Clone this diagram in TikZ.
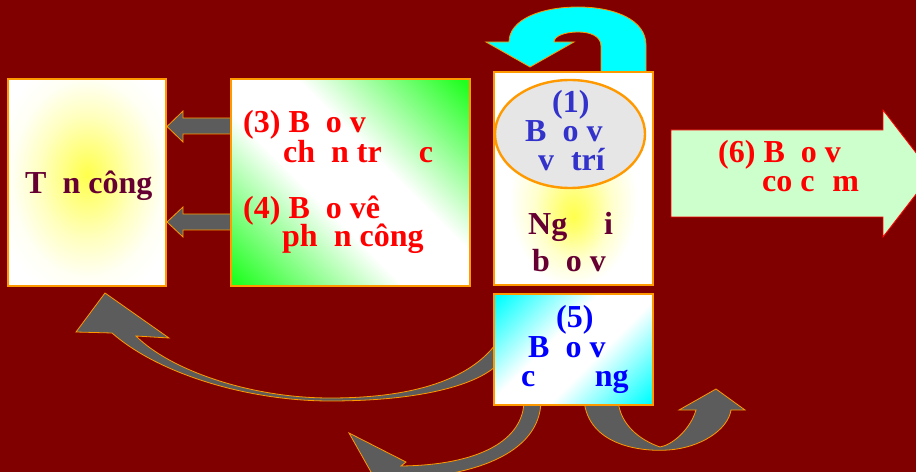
\documentclass[tikz,border=0pt]{standalone}
\usepackage{fontspec}
\setmainfont{Liberation Serif}
\usetikzlibrary{shapes.geometric}
\definecolor{bg}{RGB}{128,0,0}
\definecolor{edge}{RGB}{255,153,0}
\definecolor{arrowgray}{RGB}{92,92,92}
\definecolor{txtred}{RGB}{255,0,0}
\definecolor{txtpurple}{RGB}{102,0,51}
\definecolor{txtblueA}{RGB}{51,51,204}
\definecolor{txtblueB}{RGB}{0,0,255}
\definecolor{lightgreen}{RGB}{204,255,204}
\definecolor{ellgray}{RGB}{230,230,230}
\definecolor{uturn}{RGB}{0,255,255}
\pgfdeclareradialshading{glowleft}{\pgfpoint{0bp}{2bp}}{rgb(0bp)=(1,1,0.3); rgb(5bp)=(1,1,0.45); rgb(15bp)=(1,1,0.75); rgb(24bp)=(1,1,0.96); rgb(30bp)=(1,1,1); rgb(50bp)=(1,1,1)}
\pgfdeclareradialshading{glowmid}{\pgfpoint{0bp}{-9bp}}{rgb(0bp)=(1,1,0.3); rgb(4bp)=(1,1,0.45); rgb(12bp)=(1,1,0.8); rgb(20bp)=(1,1,1); rgb(50bp)=(1,1,1)}
\pgfdeclarehorizontalshading{greenband}{100bp}{rgb(0bp)=(0.13,1,0.13); rgb(16bp)=(0.13,1,0.13); rgb(42bp)=(1,1,1); rgb(58bp)=(1,1,1); rgb(84bp)=(0.13,1,0.13); rgb(100bp)=(0.13,1,0.13)}
\pgfdeclarehorizontalshading{cyanband}{100bp}{rgb(0bp)=(0,1,1); rgb(16bp)=(0,1,1); rgb(42bp)=(1,1,1); rgb(58bp)=(1,1,1); rgb(84bp)=(0,1,1); rgb(100bp)=(0,1,1)}
\newcommand\bigtxt{\bfseries\fontsize{32bp}{30bp}\selectfont}
\begin{document}
\begin{tikzpicture}[x=1bp,y=-1bp,
  tx/.style={anchor=base west, inner sep=0pt, font=\bigtxt},
  boxstyle/.style={draw=edge, line width=1.3bp, inner sep=0pt},
  grayarrow/.style={fill=arrowgray, draw=edge, line width=0.8bp, line join=miter}]
\useasboundingbox (0,0) rectangle (916,472);
\fill[bg] (0,0) rectangle (916,472);
\clip (0,0) rectangle (916,472);

% straight gray arrows (green box -> attack box)
\draw[grayarrow] (231,118) -- (183,118) -- (183,111) -- (167,126.5) -- (183,142) -- (183,134) -- (231,134) -- cycle;
\draw[grayarrow] (231,214) -- (183,214) -- (183,207) -- (167,222) -- (183,237) -- (183,230) -- (231,230) -- cycle;

% curved gray arrows from box (5)
\draw[grayarrow] (500,338) .. controls (470,385) and (400,398) .. (330,398)
  .. controls (250,398) and (170,370) .. (136,336) -- (169,338) -- (105,293) -- (76,332) -- (112,333)
  .. controls (160,375) and (250,401) .. (330,401)
  .. controls (420,401) and (480,385) .. (500,362) -- cycle;
\draw[grayarrow] (524,400) .. controls (524,440) and (480,465) .. (401,466) -- (406,462) -- (349,433) -- (380,488) -- (390,479)
  .. controls (470,478) and (541,455) .. (541,400) -- cycle;
\draw[grayarrow] (584,400) .. controls (588,445) and (640,452) .. (668,450) .. controls (700,448) and (728,430) .. (731,410)
  -- (745,410) -- (716,389) -- (679,410) -- (696,410)
  .. controls (690,430) and (672,445) .. (660,447) .. controls (640,440) and (620,425) .. (618,400) -- cycle;

% U-turn cyan arrow
\draw[fill=uturn, draw=edge, line width=0.8bp] (601,76) -- (601,46) .. controls (601,36) and (590,32) .. (578,32)
  .. controls (565,32) and (554,36) .. (554,42) -- (574,42) -- (530,67) -- (486,42) -- (509,42)
  .. controls (509,20) and (540,7) .. (578,7) .. controls (615,7) and (646,20) .. (646,45) -- (646,76) -- cycle;

% big right arrow (6)
\draw[fill=lightgreen, draw=txtred, line width=0.8bp] (671,130) -- (883,130) -- (883,110) -- (932,173.5) -- (883,237) -- (883,217) -- (671,217) -- cycle;

% boxes
\node[boxstyle, shading=glowleft, minimum width=158bp, minimum height=207bp] (attack) at (87,182.5) {};
\node[boxstyle, shading=greenband, shading angle=45, minimum width=239bp, minimum height=207bp] (cover) at (350.5,182.5) {};
\node[boxstyle, shading=glowmid, minimum width=159bp, minimum height=213bp] (defender) at (573.5,178.5) {};
\node[ellipse, draw=edge, line width=2.4bp, fill=ellgray, minimum width=150bp, minimum height=108bp, inner sep=0pt] (position) at (570,134) {};
\node[boxstyle, shading=cyanband, shading angle=-45, minimum width=159bp, minimum height=111bp] (mobile) at (573.5,349.5) {};

% texts
\node[tx, text=txtpurple] (tattack) at (25,194) {T\hphantom{ấ}n công};
\node[tx, text=txtred] (t3a) at (243,133) {(3) B\hphantom{ả}o v\hphantom{ệ}};
\node[tx, text=txtred] (t3b) at (283,163) {ch\hphantom{ặ}n tr\hphantom{ướ}c};
\node[tx, text=txtred] (t4a) at (243,219) {(4) B\hphantom{ả}o vê};
\node[tx, text=txtred] (t4b) at (282,247) {ph\hphantom{ầ}n công};
\node[tx, text=txtblueA] (t1a) at (552,113) {(1)};
\node[tx, text=txtblueA] (t1b) at (525,142) {B\hphantom{ả}o v\hphantom{ệ}};
\node[tx, text=txtblueA] (t1c) at (538,171) {v\hphantom{ị} trí};
\node[tx, text=txtpurple] (tdefa) at (528,235) {Ng\hphantom{ườ}i};
\node[tx, text=txtpurple] (tdefb) at (532,272) {b\hphantom{ả}o v\hphantom{ệ}};
\node[tx, text=txtblueB] (t5a) at (556,328) {(5)};
\node[tx, text=txtblueB] (t5b) at (528,358) {B\hphantom{ả}o v\hphantom{ệ}};
\node[tx, text=txtblueB] (t5c) at (521,387) {c\hphantom{ơ độ}ng};
\node[tx, text=txtred] (t6a) at (718,163) {(6) B\hphantom{ả}o v\hphantom{ệ}};
\node[tx, text=txtred] (t6b) at (762,192) {co c\hphantom{ụ}m};
\end{tikzpicture}
\end{document}
